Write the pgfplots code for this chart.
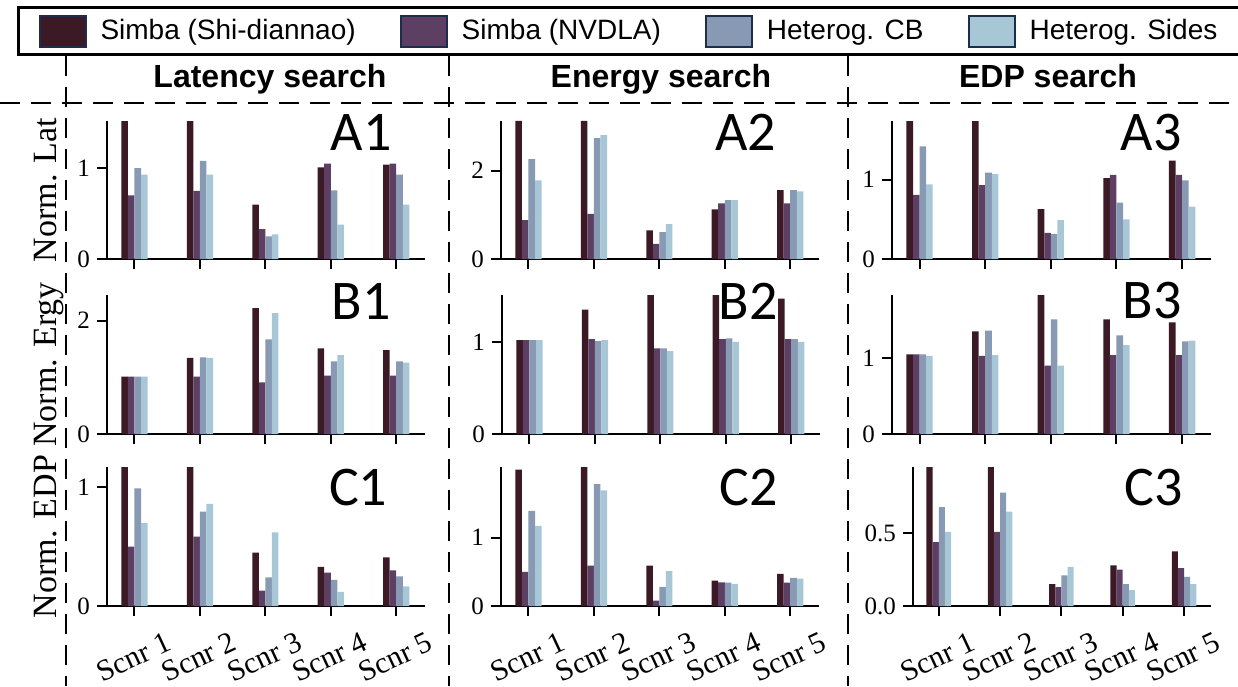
\documentclass[border=0pt]{standalone}
\usepackage{fontspec}
\setmainfont{Liberation Serif}
\newfontfamily\sansf{Liberation Sans}
\newfontfamily\calib{Carlito}
\usepackage{pgfplots}
\usepackage{pgfplotstable}
\pgfplotsset{compat=1.18}

\definecolor{cA}{HTML}{3B1A25}
\definecolor{cB}{HTML}{5C3F63}
\definecolor{cC}{HTML}{8799B3}
\definecolor{cD}{HTML}{A7C7D7}
\definecolor{edgec}{HTML}{1F2D4D}

\pgfplotstableread{
x a b c d
0 1.52 0.70 1.00 0.93
1 1.52 0.75 1.08 0.93
2 0.60 0.33 0.25 0.27
3 1.01 1.05 0.755 0.38
4 1.04 1.05 0.93 0.60
}\tAone
\pgfplotstableread{
x a b c d
0 3.12 0.88 2.26 1.78
1 3.12 1.02 2.73 2.80
2 0.65 0.34 0.61 0.79
3 1.12 1.26 1.33 1.33
4 1.56 1.26 1.56 1.53
}\tAtwo
\pgfplotstableread{
x a b c d
0 1.74 0.81 1.42 0.94
1 1.74 0.93 1.09 1.07
2 0.63 0.33 0.315 0.49
3 1.02 1.06 0.71 0.50
4 1.24 1.06 0.99 0.66
}\tAthree
\pgfplotstableread{
x a b c d
0 1.01 1.01 1.01 1.01
1 1.34 1.01 1.35 1.34
2 2.22 0.91 1.67 2.13
3 1.51 1.03 1.28 1.39
4 1.48 1.03 1.28 1.26
}\tBone
\pgfplotstableread{
x a b c d
0 1.02 1.02 1.02 1.02
1 1.35 1.03 1.01 1.02
2 1.52 0.93 0.93 0.90
3 1.51 1.03 1.04 1.00
4 1.47 1.03 1.03 1.00
}\tBtwo
\pgfplotstableread{
x a b c d
0 1.05 1.05 1.05 1.03
1 1.35 1.03 1.36 1.04
2 1.83 0.90 1.51 0.90
3 1.51 1.04 1.30 1.17
4 1.47 1.04 1.22 1.23
}\tBthree
\pgfplotstableread{
x a b c d
0 1.18 0.50 0.99 0.70
1 1.18 0.585 0.795 0.86
2 0.45 0.13 0.24 0.62
3 0.33 0.28 0.22 0.12
4 0.41 0.30 0.25 0.165
}\tCone
\pgfplotstableread{
x a b c d
0 1.99 0.50 1.39 1.17
1 2.03 0.59 1.78 1.69
2 0.59 0.08 0.28 0.51
3 0.37 0.345 0.34 0.325
4 0.47 0.34 0.41 0.40
}\tCtwo
\pgfplotstableread{
x a b c d
0 0.96 0.44 0.68 0.51
1 0.96 0.51 0.78 0.65
2 0.15 0.13 0.21 0.27
3 0.28 0.25 0.15 0.11
4 0.376 0.26 0.20 0.15
}\tCthree

\newcommand\bars[1]{%
 \addplot[fill=cA,draw=none,bar shift=-0.15] table[x=x,y=a]{#1};
 \addplot[fill=cB,draw=none,bar shift=-0.05] table[x=x,y=b]{#1};
 \addplot[fill=cC,draw=none,bar shift=0.05] table[x=x,y=c]{#1};
 \addplot[fill=cD,draw=none,bar shift=0.15] table[x=x,y=d]{#1};
}

\pgfplotsset{
 panel/.style={
  scale only axis, width=159pt, height=69pt,
  xmin=-0.42, xmax=4.44, ymin=0,
  clip mode=individual,
  axis x line*=bottom, axis y line*=left,
  axis line style={line width=1.1pt, -},
  every tick/.style={line width=1pt, black},
  major tick length=5pt,
  tick align=outside,
  xtick={0,1,2,3,4}, xticklabels={},
  ybar, bar width=0.1,
  yticklabel style={font=\fontsize{12.5}{14}\selectfont},
  /pgf/number format/assume math mode=true,
  every axis y label/.style={at={(axis description cs:-0.160,0.5)}, rotate=90, anchor=base, font=\fontsize{17}{19}\selectfont},
 },
 bottomrow/.style={
  xticklabels={Scnr 1,Scnr 2,Scnr 3,Scnr 4,Scnr 5},
  xticklabel style={font=\fontsize{15}{16}\selectfont, inner sep=0pt, anchor=center, xshift=-0.5pt, yshift=-20.5pt, rotate=25},
 },
}
\newcommand\plab[3]{\node[font=\calib\fontsize{28}{30}\selectfont, inner sep=0pt] at (axis description cs:#1,#2) {#3};}

\begin{document}
\begin{tikzpicture}
\path[use as bounding box] (0,0) rectangle (619pt,-343pt);

% Row A
\begin{axis}[panel, at={(53.5pt,-129.5pt)}, anchor=south west, ymax=1.52, ytick={0,1}, ylabel={Norm. Lat},
  legend image code/.code={\draw[#1,draw=edgec,line width=1pt] (0pt,-7.75pt) rectangle (23pt,7.75pt);},
  legend columns=4,
  legend style={at={(axis description cs:-0.283,1.833)}, anchor=north west, draw=black, line width=1.5pt,
    font=\sansf\fontsize{14}{16}\selectfont, inner xsep=10pt, inner ysep=3.5pt,
    /tikz/every even column/.append style={column sep=20pt},
    /tikz/every odd column/.append style={column sep=5pt}},
  ]
\bars{\tAone}
\legend{Simba (Shi-diannao),Simba (NVDLA),Heterog. CB,Heterog. Sides}
\plab{0.799}{0.92}{A1}
\end{axis}
\begin{axis}[panel, at={(250.5pt,-129.5pt)}, anchor=south west, ymax=3.12, ytick={0,2}]
\bars{\tAtwo}
\plab{0.770}{0.92}{A2}
\end{axis}
\begin{axis}[panel, width=159.5pt, at={(446pt,-129.5pt)}, anchor=south west, ymax=1.74, ytick={0,1}]
\bars{\tAthree}
\plab{0.812}{0.92}{A3}
\end{axis}

% Row B
\begin{axis}[panel, height=69.5pt, at={(53.5pt,-217pt)}, anchor=south west, ymax=2.45, ytick={0,2}, ylabel={Norm. Ergy}]
\bars{\tBone}
\plab{0.799}{0.957}{B1}
\end{axis}
\begin{axis}[panel, height=69.5pt, at={(251pt,-217pt)}, anchor=south west, ymax=1.51, ytick={0,1}]
\bars{\tBtwo}
\plab{0.774}{0.957}{B2}
\end{axis}
\begin{axis}[panel, width=159.5pt, height=69.5pt, at={(446pt,-217pt)}, anchor=south west, ymax=1.83, ytick={0,1}]
\bars{\tBthree}
\plab{0.815}{0.957}{B3}
\end{axis}

% Row C
\begin{axis}[panel, bottomrow, height=69.5pt, at={(53.5pt,-303pt)}, anchor=south west, ymax=1.17, ytick={0,1}, ylabel={Norm. EDP}]
\bars{\tCone}
\plab{0.79}{0.856}{C1}
\end{axis}
\begin{axis}[panel, bottomrow, height=69.5pt, at={(250.5pt,-303pt)}, anchor=south west, ymax=2.03, ytick={0,1}]
\bars{\tCtwo}
\plab{0.78}{0.856}{C2}
\end{axis}
\begin{axis}[panel, bottomrow, width=149pt, height=69.5pt, at={(456.5pt,-303pt)}, anchor=south west, ymax=0.956, ytick={0,0.5}, yticklabels={0.0,0.5}]
\bars{\tCthree}
\plab{0.809}{0.856}{C3}
\end{axis}

% titles
\node[font=\sansf\bfseries\fontsize{16}{18}\selectfont, anchor=base] at (135pt,-43.5pt) {Latency search};
\node[font=\sansf\bfseries\fontsize{16}{18}\selectfont, anchor=base] at (330.5pt,-43.5pt) {Energy search};
\node[font=\sansf\bfseries\fontsize{16}{18}\selectfont, anchor=base] at (524pt,-43.5pt) {EDP search};

% dashed separators
\begin{scope}[line width=1.25pt, dash pattern=on 10pt off 5.5pt]
\draw (0pt,-51.5pt) -- (619pt,-51.5pt);
\draw (33pt,-28pt) -- (33pt,-343pt);
\draw (224.5pt,-28pt) -- (224.5pt,-343pt);
\draw (424pt,-28pt) -- (424pt,-343pt);
\end{scope}
\end{tikzpicture}
\end{document}
